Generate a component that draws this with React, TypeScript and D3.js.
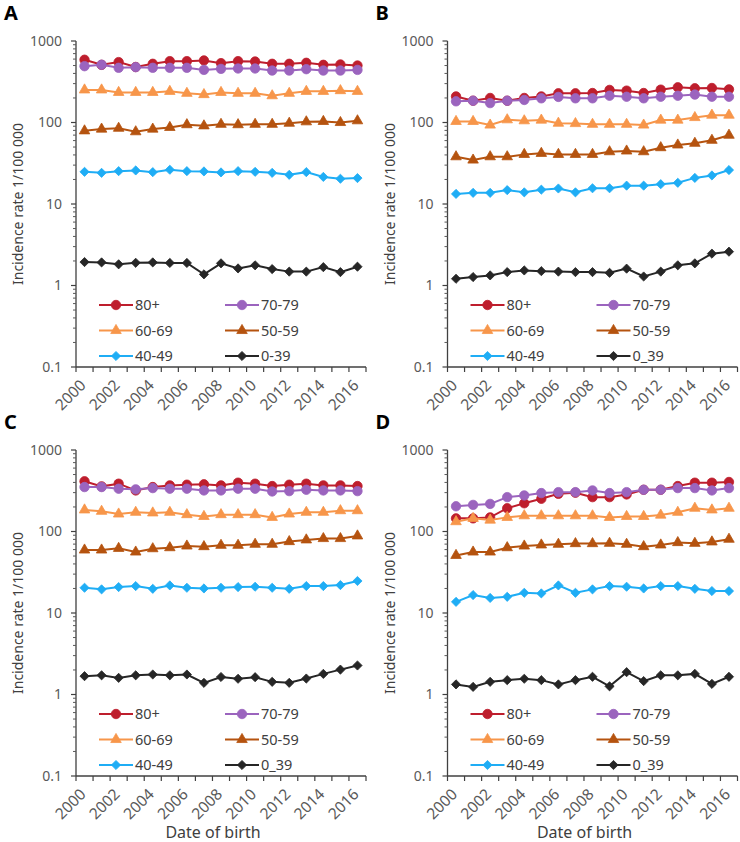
import React from "react";
import * as d3 from "d3";

const years = ["2000","2001","2002","2003","2004","2005","2006","2007","2008","2009","2010","2011","2012","2013","2014","2015","2016"];
const tickYears = ["2000","2002","2004","2006","2008","2010","2012","2014","2016"];
const yTicks = [0.1, 1, 10, 100, 1000];
const groupNames = ["80+", "70-79", "60-69", "50-59", "40-49"];
const youngLabelA = "0-39";
const youngLabelOther = "0_39";
const panelLetters = ["A", "B", "C", "D"];

// Panel A
const a80 = [589, 510, 551, 480, 525, 566, 566, 577, 535, 566, 560, 525, 525, 540, 510, 515, 500];
const a70 = [491, 511, 469, 478, 469, 469, 469, 442, 455, 460, 460, 434, 434, 451, 434, 434, 442];
const a60 = [251, 251, 234, 234, 234, 241, 228, 220, 234, 228, 228, 213, 228, 241, 241, 246, 241];
const a50 = [79, 83, 85, 77, 83, 87, 94, 91, 95, 94, 95, 95, 98, 102, 103, 100, 105];
const a40 = [24.8, 24.1, 25.3, 25.8, 24.6, 26.3, 25.3, 25.1, 24.4, 25.3, 24.8, 24.1, 22.8, 24.6, 21.5, 20.4, 20.8];
const a0 = [1.94, 1.92, 1.82, 1.90, 1.92, 1.89, 1.89, 1.37, 1.87, 1.62, 1.77, 1.59, 1.48, 1.48, 1.68, 1.46, 1.70];

// Panel B
const b80 = [209, 185, 200, 185, 200, 209, 228, 228, 230, 251, 246, 230, 253, 270, 263, 265, 255];
const b70 = [182, 185, 173, 185, 189, 198, 206, 198, 198, 213, 207, 198, 207, 213, 220, 207, 207];
const b60 = [103, 103, 93, 108, 105, 107, 98, 97, 95, 95, 95, 93, 107, 107, 115, 123, 123];
const b50 = [38, 34.6, 38, 38, 40.6, 41.8, 40.6, 40.6, 40.6, 43.8, 44.7, 43.8, 49.1, 53, 55.6, 60.5, 69.8];
const b40 = [13.3, 13.7, 13.7, 14.8, 13.9, 15.0, 15.5, 13.9, 15.6, 15.6, 16.8, 16.8, 17.5, 18.2, 20.9, 22.4, 26.1];
const b0 = [1.21, 1.27, 1.33, 1.46, 1.53, 1.50, 1.48, 1.46, 1.46, 1.43, 1.61, 1.29, 1.48, 1.77, 1.87, 2.46, 2.60];

// Panel C
const c80 = [413, 358, 386, 319, 351, 368, 375, 379, 368, 397, 386, 361, 375, 386, 368, 368, 361];
const c70 = [351, 351, 335, 329, 341, 335, 335, 319, 319, 335, 335, 310, 313, 325, 319, 319, 313];
const c60 = [184, 177, 164, 172, 169, 172, 161, 153, 161, 161, 161, 149, 164, 172, 172, 180, 180];
const c50 = [59.3, 59.3, 62.1, 56.0, 61.5, 63.3, 66.4, 65.2, 67.7, 67.7, 69.7, 69.7, 75.2, 78.9, 81.9, 81.9, 88.3];
const c40 = [20.4, 19.5, 20.8, 21.4, 19.8, 21.8, 20.4, 20.0, 20.4, 20.8, 21.0, 20.4, 19.8, 21.4, 21.4, 22.0, 24.7];
const c0 = [1.68, 1.72, 1.60, 1.72, 1.76, 1.72, 1.76, 1.39, 1.64, 1.56, 1.63, 1.43, 1.39, 1.57, 1.79, 2.02, 2.27];

// Panel D
const d80 = [145, 145, 149, 193, 222, 252, 290, 299, 264, 264, 285, 325, 325, 361, 397, 397, 405];
const d70 = [204, 212, 218, 264, 277, 296, 304, 304, 319, 296, 304, 325, 325, 341, 341, 319, 341];
const d60 = [132, 145, 138, 149, 156, 156, 156, 156, 156, 149, 153, 153, 159, 172, 193, 184, 193];
const d50 = [50.9, 56.0, 56.0, 63.3, 66.4, 68.4, 69.7, 71.0, 71.0, 71.6, 69.7, 65.2, 68.4, 73.1, 71.6, 74.5, 80.4];
const d40 = [13.7, 16.6, 15.3, 15.8, 17.7, 17.4, 21.8, 17.7, 19.5, 21.4, 21.0, 20.0, 21.4, 21.4, 19.8, 18.6, 18.6];
const d0 = [1.33, 1.24, 1.43, 1.50, 1.56, 1.50, 1.33, 1.50, 1.65, 1.26, 1.88, 1.46, 1.72, 1.72, 1.79, 1.35, 1.65];

const colors = ["#BE1E2D", "#9B64BE", "#F7964A", "#B5530F", "#1FADF5", "#262626"];
const shapes = ["circle", "circle", "triangle", "triangle", "diamond", "diamond"];

const FONT = "'Noto Sans', 'Liberation Sans', Arial, sans-serif";

function markerPath(shape: string) {
  if (shape === "circle") return d3.symbol(d3.symbolCircle, 70)()!;
  if (shape === "triangle") return d3.symbol(d3.symbolTriangle, 48)()!;
  const p = d3.path();
  const r = 4.6;
  p.moveTo(0, -r); p.lineTo(r, 0); p.lineTo(0, r); p.lineTo(-r, 0); p.closePath();
  return p.toString();
}

type PanelProps = {
  letter: string;
  series: number[][];
  labels: string[];
  x0: number;
  top: number;
  showXTitle: boolean;
};

function Panel({ letter, series, labels, x0, top, showXTitle }: PanelProps) {
  const width = 290;
  const yTop = top + 41;
  const yBot = top + 367;
  const x = d3.scaleBand<string>().domain(years).range([x0, x0 + width]);
  const y = d3.scaleLog().domain([0.1, 1000]).range([yBot, yTop]);
  const bw = x.bandwidth();
  const cx = (yr: string) => (x(yr) as number) + bw / 2;
  const line = d3.line<number>().x((_, i) => cx(years[i])).y((v) => y(v));

  const minor: number[] = [];
  for (let e = -1; e < 3; e++) {
    for (let k = 2; k <= 9; k++) minor.push(k * Math.pow(10, e));
  }
  const boundaries = d3.range(years.length + 1).map((i) => x0 + i * bw);
  const legendRows = [yBot - 62, yBot - 36.5, yBot - 11];

  return (
    <g>
      <text x={x0 - 72} y={top + 20} fontFamily={FONT} fontWeight="bold" fontSize={20} fill="#000">{letter}</text>
      {/* y axis */}
      <line x1={x0} x2={x0} y1={yTop} y2={yBot} stroke="#404040" strokeWidth={1.3} />
      {yTicks.map((t) => (
        <g key={t}>
          <line x1={x0 - 5} x2={x0} y1={y(t)} y2={y(t)} stroke="#404040" strokeWidth={1.2} />
          <text x={x0 - 14} y={y(t)} dy="0.35em" textAnchor="end" fontFamily={FONT} fontSize={14} fill="#595959">{String(t)}</text>
        </g>
      ))}
      {minor.map((t) => (
        <line key={t} x1={x0 - 3} x2={x0} y1={y(t)} y2={y(t)} stroke="#595959" strokeWidth={1} />
      ))}
      <text transform={`translate(${x0 - 53},${(yTop + yBot) / 2}) rotate(-90)`} textAnchor="middle" fontFamily={FONT} fontSize={14} fill="#404040">Incidence rate 1/100 000</text>
      {/* x axis */}
      <line x1={x0} x2={x0 + width} y1={yBot} y2={yBot} stroke="#404040" strokeWidth={1.3} />
      {boundaries.map((bx, i) => (
        <line key={i} x1={bx} x2={bx} y1={yBot} y2={yBot + 5} stroke="#404040" strokeWidth={1.2} />
      ))}
      {tickYears.map((yr) => (
        <text key={yr} transform={`translate(${cx(yr) - 2},${yBot + 15}) rotate(-45)`} textAnchor="end" dominantBaseline="central" fontFamily={FONT} fontSize={15.5} fill="#595959">{yr}</text>
      ))}
      {showXTitle && (
        <text x={x0 + width / 2 - 8} y={top + 429} textAnchor="middle" fontFamily={FONT} fontSize={16} fill="#404040">Date of birth</text>
      )}
      {/* series */}
      {series.map((s, si) => (
        <g key={si}>
          <path d={line(s) || ""} fill="none" stroke={colors[si]} strokeWidth={2} />
          {s.map((v, i) => (
            <path key={i} d={markerPath(shapes[si])} transform={`translate(${cx(years[i])},${y(v)})`} fill={colors[si]} stroke={colors[si]} strokeWidth={0.8} />
          ))}
        </g>
      ))}
      {/* legend */}
      {labels.map((lab, li) => {
        const col = li % 2;
        const row = Math.floor(li / 2);
        const lx = x0 + (col === 0 ? 23 : 149);
        const ly = legendRows[row];
        return (
          <g key={lab}>
            <line x1={lx} x2={lx + 34} y1={ly} y2={ly} stroke={colors[li]} strokeWidth={2} />
            <path d={markerPath(shapes[li])} transform={`translate(${lx + 17},${ly})`} fill={colors[li]} stroke={colors[li]} strokeWidth={0.8} />
            <text x={lx + 36} y={ly} dy="0.36em" fontFamily={FONT} fontSize={14.5} fill="#404040">{lab}</text>
          </g>
        );
      })}
    </g>
  );
}

export default function App() {
  const panels = [
    { series: [a80, a70, a60, a50, a40, a0], young: youngLabelA, x0: 76, top: 0, xt: false },
    { series: [b80, b70, b60, b50, b40, b0], young: youngLabelOther, x0: 447.5, top: 0, xt: false },
    { series: [c80, c70, c60, c50, c40, c0], young: youngLabelOther, x0: 76, top: 409, xt: true },
    { series: [d80, d70, d60, d50, d40, d0], young: youngLabelOther, x0: 447.5, top: 409, xt: true },
  ];
  return (
    <svg width={740} height={842} style={{ position: "absolute", left: 0, top: 0, background: "#fff" }}>
      <rect width={740} height={842} fill="#fff" />
      {panels.map((p, i) => (
        <Panel key={i} letter={panelLetters[i]} series={p.series} labels={[...groupNames, p.young]} x0={p.x0} top={p.top} showXTitle={p.xt} />
      ))}
    </svg>
  );
}
